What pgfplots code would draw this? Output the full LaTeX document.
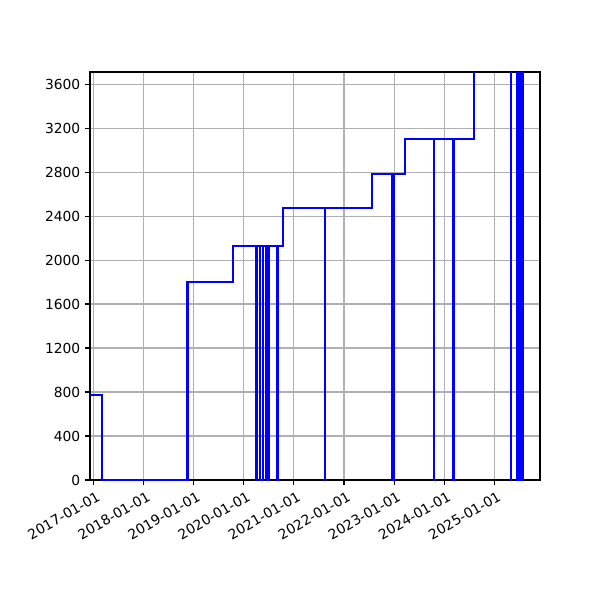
\documentclass[border=0pt]{standalone}
\usepackage{fontspec}
\setmainfont{DejaVu Sans}
\usepackage{pgfplots}
\pgfplotsset{compat=1.18}
\definecolor{gridgray}{HTML}{B0B0B0}

\begin{document}
\begin{tikzpicture}
\begin{axis}[
  at={(0,0)}, anchor=south west,
  scale only axis,
  width=325.2pt, height=294.86pt,
  xmin=-26, xmax=3255,
  ymin=0, ymax=3710,
  xtick={0,365,730,1095,1461,1826,2191,2556,2922},
  xticklabels={2017-01-01,2018-01-01,2019-01-01,2020-01-01,2021-01-01,2022-01-01,2023-01-01,2024-01-01,2025-01-01},
  ytick={0,400,...,3600},
  x tick label style={rotate=30, anchor=north east, font=\fontsize{10}{12}\selectfont, inner sep=1pt, xshift=0.5pt, yshift=-3.5pt},
  y tick label style={font=\fontsize{10}{12}\selectfont},
  /pgf/number format/assume math mode=true,
  /pgf/number format/set thousands separator={},
  tick pos=left,
  tick align=outside,
  major tick length=3.5pt,
  tick style={black, line width=0.8pt},
  axis line style={line width=0.8pt},
  grid=major,
  major grid style={gridgray, line width=0.8pt},
]
\addplot [blue, line width=1.5pt, line join=miter] coordinates {
(-26,775) (61,775) (61,0) (685,0) (685,1800) (1017,1800) (1017,2125)
(1188,2125) (1188,0) (1190,0) (1190,2125)
(1211,2125) (1211,0) (1213,0) (1213,2125)
(1235,2125) (1235,0) (1237,0) (1237,2125)
(1256,2125) (1256,0) (1258,0) (1258,2125)
(1275,2125) (1275,0) (1277,0) (1277,2125)
(1340,2125) (1340,0) (1342,0) (1342,2125)
(1383,2125) (1383,2470)
(1687,2470) (1687,0) (1689,0) (1689,2470)
(2028,2470) (2028,2785)
(2177,2785) (2177,0) (2187,0) (2187,2785)
(2271,2785) (2271,3105)
(2482,3105) (2482,0) (2484,0) (2484,3105)
(2619,3105) (2619,0) (2627,0) (2627,3105)
(2774,3105) (2774,4000)
(3041,4000) (3041,0) (3043,0) (3043,4000)
(3085,4000) (3085,0) (3087,0) (3087,4000)
(3089,4000) (3089,0) (3091,0) (3091,4000)
(3093,4000) (3093,0) (3095,0) (3095,4000)
(3097,4000) (3097,0) (3099,0) (3099,4000)
(3101,4000) (3101,0) (3103,0) (3103,4000)
(3105,4000) (3105,0) (3107,0) (3107,4000)
(3109,4000) (3109,0) (3111,0) (3111,4000)
(3113,4000) (3113,0) (3115,0) (3115,4000)
(3117,4000) (3117,0) (3119,0) (3119,4000)
(3121,4000) (3121,0) (3123,0) (3123,4000)
(3125,4000) (3125,0) (3127,0) (3127,4000)
(3129,4000) (3129,0) (3129,4000)
};
\end{axis}
\path (-65.04pt,-86.72pt) rectangle (368.58pt,346.9pt);
\end{tikzpicture}
\end{document}
